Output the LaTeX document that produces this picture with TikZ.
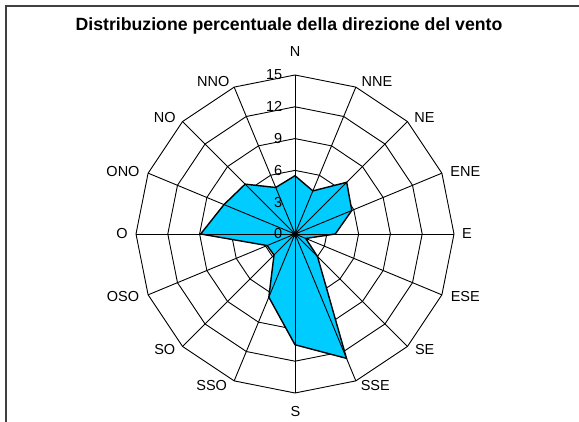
\documentclass[tikz,border=0pt]{standalone}
\usepackage{fontspec}
\setmainfont{Liberation Sans}
\definecolor{areafill}{RGB}{0,204,255}
\definecolor{framegray}{RGB}{64,64,64}
\begin{document}
\begin{tikzpicture}[x=1pt,y=1pt,
  gridline/.style={black, line width=0.9pt, line join=miter},
  lbl/.style={font=\fontsize{14.5}{16}\selectfont, inner sep=0pt, text=black},
  ticklbl/.style={lbl, anchor=east},
  area/.style={fill=areafill, draw=black, line width=1.4pt, line join=miter}]
\useasboundingbox (-295,-188) rectangle (284,234);
\fill[white] (-295,-188) rectangle (284,234);
\draw[framegray, line width=1.6pt] (-289,-190) -- (-289,228) -- (286,228);
% title
\node[font=\bfseries\fontsize{17.7}{20}\selectfont, anchor=base, inner sep=0pt, text=black] (title) at (-6,203.3) {Distribuzione percentuale della direzione del vento};
% rings
\foreach \r in {3,6,9,12,15} {
  \draw[gridline] (90:\r*10.6) \foreach \k in {1,...,15} { -- (90-\k*22.5:\r*10.6) } -- cycle;
}
% data area
\draw[area] (90:5.5*10.6) -- (67.5:4.4*10.6) -- (45:6.9*10.6) -- (22.5:5.8*10.6)
  -- (0:3.8*10.6) -- (-22.5:1.1*10.6) -- (-45:3.0*10.6) -- (-67.5:12.7*10.6)
  -- (-90:10.45*10.6) -- (-112.5:6.45*10.6) -- (-135:2.8*10.6) -- (-157.5:2.85*10.6)
  -- (180:8.9*10.6) -- (157.5:7.25*10.6) -- (135:6.65*10.6) -- (112.5:4.75*10.6) -- cycle;
% spokes
\coordinate (c) at (0,0);
\foreach \k in {0,...,15} {
  \draw[gridline] (c) -- (90-\k*22.5:159);
}
\fill[black] (c) circle (3);
% tick labels
\foreach \v in {0,3,6,9,12,15} {
  \node[ticklbl] (t\v) at (-12.5,\v*10.6) {\v};
}
% direction labels
\node[lbl] (lN)   at (0,182)        {N};
\node[lbl] (lNNE) at (82,152.3)     {NNE};
\node[lbl] (lNE)  at (129.5,116.5)  {NE};
\node[lbl] (lENE) at (170.3,62.3)   {ENE};
\node[lbl] (lE)   at (172,0)        {E};
\node[lbl] (lESE) at (170.3,-62.3)  {ESE};
\node[lbl] (lSE)  at (129.7,-115.3) {SE};
\node[lbl] (lSSE) at (80.3,-151.5)  {SSE};
\node[lbl] (lS)   at (0.5,-178)     {S};
\node[lbl] (lSSO) at (-83.3,-151.5) {SSO};
\node[lbl] (lSO)  at (-130.2,-115.3){SO};
\node[lbl] (lOSO) at (-172,-62.3)   {OSO};
\node[lbl] (lO)   at (-173,0)       {O};
\node[lbl] (lONO) at (-172,62.3)    {ONO};
\node[lbl] (lNO)  at (-130.2,116.5) {NO};
\node[lbl] (lNNO) at (-81.7,152.3)  {NNO};
\end{tikzpicture}
\end{document}
